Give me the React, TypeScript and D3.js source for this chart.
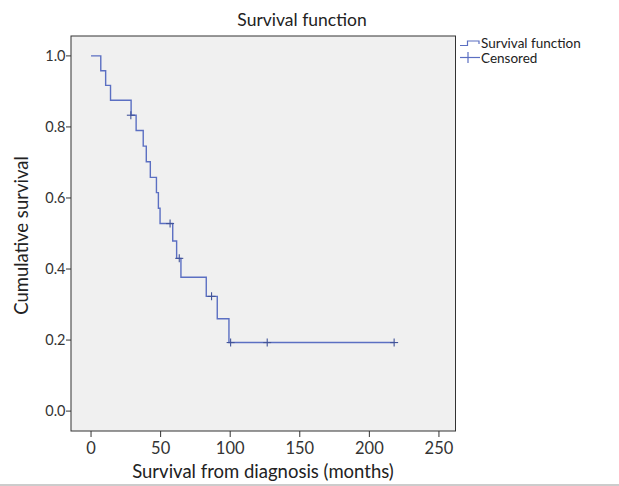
import * as d3 from 'd3'

// step points of the Kaplan-Meier curve: [months, cumulative survival]
const stepTimes = [0, 7, 10.5, 14, 28.8, 32.4, 37.5, 39.7, 42.6, 47, 48.4, 49.6, 58.7, 61.5, 64.6, 82.8, 90.7, 99.1, 218]
const stepSurvival = [1.0, 0.958, 0.917, 0.875, 0.833, 0.79, 0.746, 0.702, 0.658, 0.615, 0.571, 0.528, 0.479, 0.43, 0.377, 0.323, 0.26, 0.193, 0.193]

const censoredTimes = [28.6, 56.8, 63.4, 86.6, 100.3, 126.6, 217.8]
const censoredSurvival = [0.833, 0.528, 0.43, 0.323, 0.193, 0.193, 0.193]

const xTicks = [0, 50, 100, 150, 200, 250]
const yTicks = [0, 0.2, 0.4, 0.6, 0.8, 1.0]

const width = 619
const height = 486
const plot = { left: 71, right: 455.5, top: 36, bottom: 431 }
const lineColor = '#5b6fc2'
const markColor = '#42549a'
const font = 'Lato, "Open Sans", sans-serif'

export default function App() {
  const x = d3.scaleLinear().domain([-14.4, 261.9]).range([plot.left, plot.right])
  const y = d3.scaleLinear().domain([-0.056, 1.056]).range([plot.bottom, plot.top])

  const points = stepTimes.map((t, i) => [t, stepSurvival[i]] as [number, number])
  const line = d3
    .line<[number, number]>()
    .x((d) => x(d[0]))
    .y((d) => y(d[1]))
    .curve(d3.curveStepAfter)
  const path = line(points) ?? ''

  return (
    <svg
      width={width}
      height={height}
      style={{ position: 'absolute', left: 0, top: 0, background: '#fff' }}
      fontFamily={font}
    >
      <text x={302} y={26} textAnchor="middle" fontSize="17.5" fill="#222">
        Survival function
      </text>

      <rect
        x={plot.left}
        y={plot.top}
        width={plot.right - plot.left}
        height={plot.bottom - plot.top}
        fill="#f0f0f0"
        stroke="#333"
        strokeWidth="1"
      />

      {yTicks.map((tick) => (
        <g key={tick} transform={`translate(0,${y(tick)})`}>
          <line x1={plot.left - 5} x2={plot.left} y1={0} y2={0} stroke="#333" />
          <text x={plot.left - 5.5} y={5} textAnchor="end" fontSize="14.5" fill="#333">
            {tick.toFixed(1)}
          </text>
        </g>
      ))}

      {xTicks.map((tick) => (
        <g key={tick} transform={`translate(${x(tick)},0)`}>
          <line x1={0} x2={0} y1={plot.bottom} y2={plot.bottom + 6} stroke="#333" />
          <text x={0} y={plot.bottom + 23} textAnchor="middle" fontSize="16.5" fill="#333">
            {tick}
          </text>
        </g>
      ))}

      <text
        transform={`translate(28,${(plot.top + plot.bottom) / 2 + 2}) rotate(-90)`}
        textAnchor="middle"
        fontSize="18.5"
        fill="#222"
      >
        Cumulative survival
      </text>
      <text x={263} y={478} textAnchor="middle" fontSize="18.5" fill="#222">
        Survival from diagnosis (months)
      </text>

      <path d={path} fill="none" stroke={lineColor} strokeWidth="1.4" />

      {censoredTimes.map((t, i) => (
        <g key={t} transform={`translate(${x(t)},${y(censoredSurvival[i])})`} stroke={markColor} strokeWidth="1.1">
          <line x1={-4} x2={4} y1={0} y2={0} />
          <line x1={0} x2={0} y1={-4} y2={4} />
        </g>
      ))}

      <g>
        <path d="M460,45.5 H467.5 V41 H479 V44" fill="none" stroke={lineColor} strokeWidth="1.2" />
        <text x={481} y={47.5} fontSize="13.5" fill="#222">
          Survival function
        </text>
        <line x1={460} x2={480} y1={57.5} y2={57.5} stroke={lineColor} strokeWidth="1.2" />
        <line x1={468} x2={468} y1={52} y2={63} stroke={lineColor} strokeWidth="1.2" />
        <text x={481} y={62.5} fontSize="13.5" fill="#222">
          Censored
        </text>
      </g>

      <line x1={0} x2={width} y1={485} y2={485} stroke="#999" strokeWidth="1.2" />
    </svg>
  )
}
